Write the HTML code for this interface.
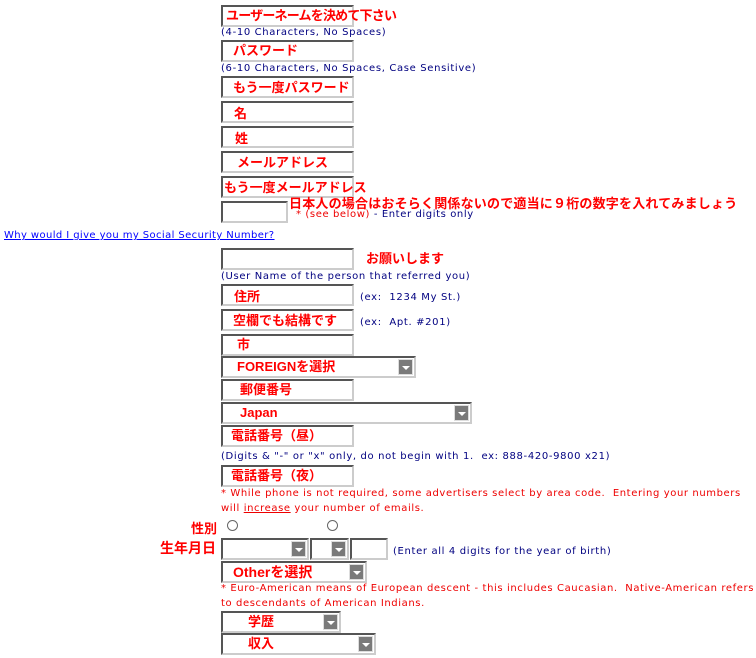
<!DOCTYPE html>
<html><head><meta charset="utf-8"><style>
body{margin:0;width:756px;height:658px;background:#fff;position:relative;overflow:hidden;font-family:Verdana,"DejaVu Sans","Liberation Sans",sans-serif}
.a{position:absolute;white-space:nowrap}
.b{position:absolute;box-sizing:border-box;border:2px solid;border-color:#555 #ccc #ccc #555;background:#fff;height:22px}
.j{position:absolute;color:#f00;font-weight:bold;font-size:13px;font-family:"Liberation Sans","Noto Sans CJK JP",sans-serif;white-space:nowrap;line-height:16px}
.n{position:absolute;color:#000080;font-size:10px;white-space:nowrap;line-height:12px;font-family:"DejaVu Sans",sans-serif;letter-spacing:0.65px}
.r{position:absolute;color:#e00;font-size:10px;white-space:nowrap;line-height:12px;font-family:"DejaVu Sans",sans-serif;letter-spacing:0.6px}
.btn{position:absolute;right:1px;top:1px;width:15px;height:16px;background:#7a7a7a;border:1px solid #ddd;box-sizing:border-box}
.btn:after{content:"";position:absolute;left:3px;top:6px;border-left:4px solid transparent;border-right:4px solid transparent;border-top:4px solid #fff}
.rad{position:absolute;width:9px;height:9px;border:1px solid #666;border-radius:50%;background:#fff}
</style></head><body>
<div class="b" style="left:221px;top:5px;width:133px"></div><div class="j" style="left:226px;top:8px;letter-spacing:-0.8px">ユーザーネームを決めて下さい</div>
<div class="n" style="left:221px;top:27px">(4-10 Characters, No Spaces)</div>
<div class="b" style="left:221px;top:40px;width:133px"></div><div class="j" style="left:233px;top:43px">パスワード</div>
<div class="n" style="left:221px;top:63px">(6-10 Characters, No Spaces, Case Sensitive)</div>
<div class="b" style="left:221px;top:76px;width:133px"></div><div class="j" style="left:233px;top:80px">もう一度パスワード</div>
<div class="b" style="left:221px;top:101px;width:133px"></div><div class="j" style="left:234px;top:106px">名</div>
<div class="b" style="left:221px;top:126px;width:133px"></div><div class="j" style="left:235px;top:131px">姓</div>
<div class="b" style="left:221px;top:151px;width:133px"></div><div class="j" style="left:237px;top:155px">メールアドレス</div>
<div class="b" style="left:221px;top:176px;width:133px"></div><div class="j" style="left:224px;top:180px">もう一度メールアドレス</div>
<div class="b" style="left:221px;top:201px;width:67px"></div><div class="j" style="left:289px;top:196px;letter-spacing:0.2px">日本人の場合はおそらく関係ないので適当に９桁の数字を入れてみましょう</div>
<div class="r" style="left:296px;top:209px">* (see below) <span style="color:#000080">- Enter digits only</span></div>
<div class="a" style="left:4px;top:230px;font-size:10px;color:#00f;text-decoration:underline;font-family:'DejaVu Sans',sans-serif;letter-spacing:0.4px">Why would I give you my Social Security Number?</div>
<div class="b" style="left:221px;top:248px;width:133px"></div><div class="j" style="left:366px;top:251px">お願いします</div>
<div class="n" style="left:221px;top:271px">(User Name of the person that referred you)</div>
<div class="b" style="left:221px;top:284px;width:133px"></div><div class="j" style="left:234px;top:289px">住所</div><div class="n" style="left:360px;top:292px">(ex:&nbsp; 1234 My St.)</div>
<div class="b" style="left:221px;top:309px;width:133px"></div><div class="j" style="left:233px;top:313px">空欄でも結構です</div><div class="n" style="left:360px;top:317px">(ex:&nbsp; Apt. #201)</div>
<div class="b" style="left:221px;top:334px;width:133px"></div><div class="j" style="left:237px;top:337px">市</div>
<div class="b" style="left:221px;top:356px;width:195px"><div class="btn"></div></div><div class="j" style="left:237px;top:359px">FOREIGNを選択</div>
<div class="b" style="left:221px;top:379px;width:133px"></div><div class="j" style="left:240px;top:382px">郵便番号</div>
<div class="b" style="left:221px;top:402px;width:251px"><div class="btn"></div></div><div class="j" style="left:240px;top:405px">Japan</div>
<div class="b" style="left:221px;top:425px;width:133px"></div><div class="j" style="left:231px;top:428px">電話番号（昼）</div>
<div class="n" style="left:221px;top:451px">(Digits &amp; "-" or "x" only, do not begin with 1.&nbsp; ex: 888-420-9800 x21)</div>
<div class="b" style="left:221px;top:465px;width:133px"></div><div class="j" style="left:231px;top:468px">電話番号（夜）</div>
<div class="r" style="left:221px;top:488px">* While phone is not required, some advertisers select by area code.&nbsp; Entering your numbers</div>
<div class="r" style="left:221px;top:503px">will <u>increase</u> your number of emails.</div>
<div class="j" style="left:191px;top:521px">性別</div>
<div class="rad" style="left:227px;top:520px"></div><div class="rad" style="left:327px;top:520px"></div>
<div class="j" style="left:160px;top:540px;font-size:14px">生年月日</div>
<div class="b" style="left:221px;top:538px;width:88px"><div class="btn"></div></div>
<div class="b" style="left:310px;top:538px;width:39px"><div class="btn"></div></div>
<div class="b" style="left:350px;top:538px;width:38px"></div>
<div class="n" style="left:393px;top:546px">(Enter all 4 digits for the year of birth)</div>
<div class="b" style="left:221px;top:561px;width:146px"><div class="btn"></div></div><div class="j" style="left:233px;top:564px;font-size:14px">Otherを選択</div>
<div class="r" style="left:221px;top:583px">* Euro-American means of European descent - this includes Caucasian.&nbsp; Native-American refers</div>
<div class="r" style="left:221px;top:598px">to descendants of American Indians.</div>
<div class="b" style="left:221px;top:611px;width:120px"><div class="btn"></div></div><div class="j" style="left:248px;top:614px">学歴</div>
<div class="b" style="left:221px;top:633px;width:155px"><div class="btn"></div></div><div class="j" style="left:248px;top:636px">収入</div>
</body></html>
